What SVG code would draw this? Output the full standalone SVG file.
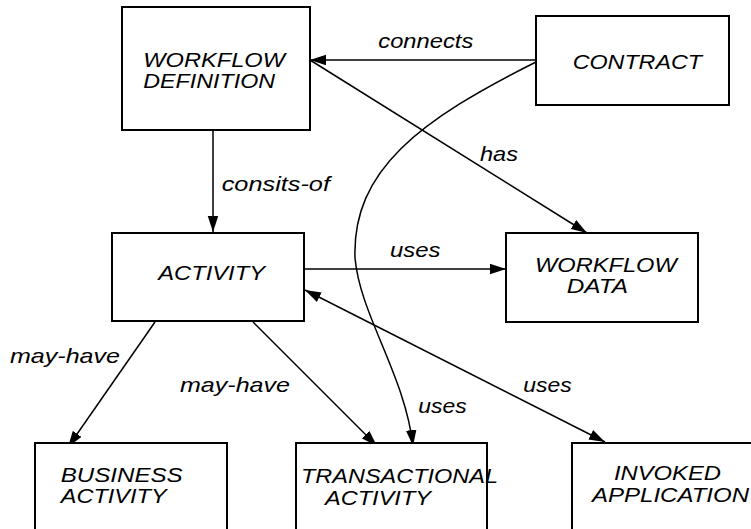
<svg xmlns="http://www.w3.org/2000/svg" width="751" height="529" viewBox="0 0 751 529">
<style>
.box{fill:#fff;stroke:#000;stroke-width:2}
.t{font-family:"Liberation Sans",Arial,sans-serif;font-style:italic;font-size:21px;fill:#000}
.c{fill:none;stroke:#000;stroke-width:1.5}
</style>
<defs>
<marker id="ah" markerUnits="userSpaceOnUse" markerWidth="17" markerHeight="11" refX="16" refY="5.25" orient="auto-start-reverse">
<path d="M0,0 L16,5.25 L0,10.5 z" fill="#000"/>
</marker>
</defs>
<rect width="751" height="529" fill="#fff"/>
<g id="connectors">
<path class="c" d="M536,60 L310,60" marker-end="url(#ah)"/>
<path class="c" d="M310,60 L587,233" marker-end="url(#ah)"/>
<path class="c" d="M213,130 L213,232" marker-end="url(#ah)"/>
<path class="c" d="M304,269 L506,269" marker-end="url(#ah)"/>
<path class="c" d="M536,62 C420,120 352,170 355,258 C360,315 405,375 413,446" marker-end="url(#ah)"/>
<path class="c" d="M305,290 L605,442" marker-start="url(#ah)" marker-end="url(#ah)"/>
<path class="c" d="M155,322 L68,447" marker-end="url(#ah)"/>
<path class="c" d="M253,322 L377,446" marker-end="url(#ah)"/>
<text class="t" x="378.3" y="48.3" textLength="95" lengthAdjust="spacingAndGlyphs">connects</text>
<text class="t" x="480" y="160.7" textLength="38" lengthAdjust="spacingAndGlyphs">has</text>
<text class="t" x="221.7" y="191" textLength="108.3" lengthAdjust="spacingAndGlyphs">consits-of</text>
<text class="t" x="390" y="256.7" textLength="50.5" lengthAdjust="spacingAndGlyphs">uses</text>
<text class="t" x="10" y="363.3" textLength="110" lengthAdjust="spacingAndGlyphs">may-have</text>
<text class="t" x="180" y="391.7" textLength="110" lengthAdjust="spacingAndGlyphs">may-have</text>
<text class="t" x="418.3" y="413.3" textLength="48.4" lengthAdjust="spacingAndGlyphs">uses</text>
<text class="t" x="523.3" y="391.7" textLength="48.4" lengthAdjust="spacingAndGlyphs">uses</text>
</g>
<g id="workflow-definition">
<rect class="box" x="122" y="7" width="188" height="123"/>
<text class="t" x="143.3" y="67" textLength="141.7" lengthAdjust="spacingAndGlyphs">WORKFLOW</text>
<text class="t" x="143.3" y="88.3" textLength="131.7" lengthAdjust="spacingAndGlyphs">DEFINITION</text>
</g>
<g id="contract">
<rect class="box" x="536" y="16" width="193" height="89"/>
<text class="t" x="572.7" y="69.3" textLength="129.3" lengthAdjust="spacingAndGlyphs">CONTRACT</text>
</g>
<g id="activity">
<rect class="box" x="112" y="233" width="192" height="88"/>
<text class="t" x="158.3" y="280" textLength="106.7" lengthAdjust="spacingAndGlyphs">ACTIVITY</text>
</g>
<g id="workflow-data">
<rect class="box" x="506" y="233" width="192" height="89"/>
<text class="t" x="535" y="271.7" textLength="141.7" lengthAdjust="spacingAndGlyphs">WORKFLOW</text>
<text class="t" x="566.7" y="293.3" textLength="61.3" lengthAdjust="spacingAndGlyphs">DATA</text>
</g>
<g id="business-activity">
<rect class="box" x="35" y="443" width="192" height="100"/>
<text class="t" x="60.7" y="481.7" textLength="122" lengthAdjust="spacingAndGlyphs">BUSINESS</text>
<text class="t" x="60.7" y="503.3" textLength="106" lengthAdjust="spacingAndGlyphs">ACTIVITY</text>
</g>
<g id="transactional-activity">
<rect class="box" x="296" y="443" width="191" height="100"/>
<text class="t" x="301" y="483.3" textLength="197" lengthAdjust="spacingAndGlyphs">TRANSACTIONAL</text>
<text class="t" x="325" y="505" textLength="106" lengthAdjust="spacingAndGlyphs">ACTIVITY</text>
</g>
<g id="invoked-application">
<rect class="box" x="572" y="443" width="192" height="100"/>
<text class="t" x="614" y="480" textLength="107" lengthAdjust="spacingAndGlyphs">INVOKED</text>
<text class="t" x="592" y="501.7" textLength="157" lengthAdjust="spacingAndGlyphs">APPLICATION</text>
</g>
</svg>
